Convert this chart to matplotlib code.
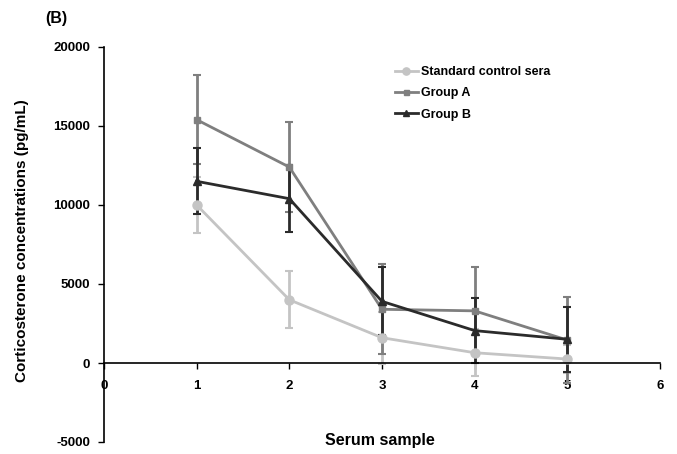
import matplotlib
matplotlib.use("Agg")
import matplotlib.pyplot as plt

plt.rcParams['font.family'] = ['Liberation Sans', 'DejaVu Sans']
plt.rcParams['font.weight'] = 'bold'
plt.rcParams['axes.unicode_minus'] = False

# data
samples = [1, 2, 3, 4, 5]
series_names = ['Standard control sera', 'Group A', 'Group B']
standard = [10000, 4000, 1600, 650, 250]
standard_err = [1800, 1800, 1650, 1500, 900]
group_a = [15400, 12400, 3400, 3300, 1450]
group_a_err = [2800, 2850, 2850, 2800, 2700]
group_b = [11500, 10400, 3900, 2050, 1500]
group_b_err = [2100, 2100, 2150, 2080, 2050]

xticks = [0, 1, 2, 3, 4, 5, 6]
yticks = [-5000, 0, 5000, 10000, 15000, 20000]

fig = plt.figure(figsize=(6.77, 4.54), dpi=100)
W, H = 677, 454
ax = fig.add_axes([104 / W, 1 - 442 / H, (660 - 104) / W, (442 - 47) / H])

eb1 = ax.errorbar(samples, standard, yerr=standard_err, color='#c4c4c4', marker='o',
                  markersize=6.5, linewidth=2, elinewidth=2, capsize=3, capthick=1.5)
eb2 = ax.errorbar(samples, group_a, yerr=group_a_err, color='#7f7f7f', marker='s',
                  markersize=4.5, linewidth=2, elinewidth=2, capsize=3, capthick=1.5)
eb3 = ax.errorbar(samples, group_b, yerr=group_b_err, color='#2b2b2b', marker='^',
                  markersize=6, linewidth=2, elinewidth=2, capsize=3, capthick=1.5)

ax.set_xlim(0, 6)
ax.set_ylim(-5000, 20000)
ax.set_xticks(xticks)
ax.set_yticks(yticks)
ax.tick_params(axis='both', labelsize=9.5, direction='out', length=4, width=1)
ax.tick_params(axis='x', pad=8)
ax.tick_params(axis='y', pad=6)

ax.spines['top'].set_visible(False)
ax.spines['right'].set_visible(False)
ax.spines['bottom'].set_position(('data', 0))
ax.spines['left'].set_linewidth(1.2)
ax.spines['bottom'].set_linewidth(1.2)

# legend shows only line + marker, no error bars
ax.legend([eb1[0], eb2[0], eb3[0]], series_names, loc='upper left',
          bbox_to_anchor=(0.523, 0.952), frameon=False, fontsize=9,
          handlelength=1.85, handletextpad=0.25, labelspacing=0.75,
          borderaxespad=0, borderpad=0, markerscale=0.8)

fig.text(22 / W, 1 - 241 / H, 'Corticosterone concentrations (pg/mL)',
         rotation=90, ha='center', va='center', fontsize=11, fontweight='bold')
fig.text(380 / W, 1 - 440 / H, 'Serum sample', ha='center', va='center',
         fontsize=11.5, fontweight='bold')
fig.text(45 / W, 1 - 19 / H, '(B)', ha='left', va='center',
         fontsize=11.5, fontweight='bold')

fig.savefig('out.png', dpi=100)
